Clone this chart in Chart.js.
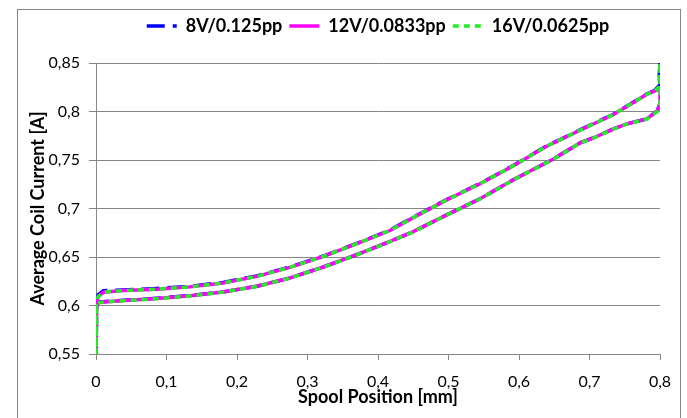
<!DOCTYPE html>
<html>
<head>
<meta charset="utf-8">
<script src="https://cdn.jsdelivr.net/npm/chart.js@4.4.1/dist/chart.umd.min.js"></script>
<style>
  html, body { margin: 0; padding: 0; background: #ffffff; }
  canvas { display: block; }
</style>
</head>
<body>
<canvas id="c" width="687" height="418"></canvas>
<script>
// ---- data ----
const seriesNames = ['8V/0.125pp', '12V/0.0833pp', '16V/0.0625pp'];

// spool position [mm] along the hysteresis loop (up along upper branch, back along lower branch)
const spoolPos = [
  0, 0, 0.001, 0.003, 0.0104, 0.039, 0.086, 0.133, 0.18, 0.228, 0.275, 0.3225, 0.37, 0.417,
  0.45, 0.4974, 0.5447, 0.592, 0.639, 0.6865, 0.734, 0.781, 0.792, 0.798, 0.8,
  0.8, 0.796, 0.781, 0.7527, 0.734, 0.7054, 0.6865, 0.6487, 0.592, 0.5447, 0.4974, 0.45,
  0.417, 0.37, 0.3225, 0.275, 0.228, 0.18, 0.133, 0.086, 0.039, 0.0057, 0.002, 0.001, 0
];

// average coil current [A]
const current8V = [
  0.55, 0.595, 0.604, 0.611, 0.6152, 0.616, 0.6175, 0.6197, 0.6238, 0.6305, 0.6397, 0.651, 0.664, 0.6777,
  0.691, 0.7092, 0.7258, 0.7444, 0.7645, 0.781, 0.7972, 0.818, 0.8215, 0.826, 0.85,
  0.808, 0.8005, 0.7924, 0.7872, 0.782, 0.7727, 0.7676, 0.751, 0.7296, 0.71, 0.6934, 0.6761,
  0.666, 0.6524, 0.6397, 0.6284, 0.6198, 0.614, 0.6102, 0.6074, 0.6053, 0.6036, 0.602, 0.598, 0.55
];
const current12V = [
  0.55, 0.595, 0.603, 0.609, 0.6137, 0.6154, 0.6168, 0.6192, 0.6233, 0.630, 0.6393, 0.6506, 0.6637, 0.6773,
  0.6906, 0.7089, 0.7255, 0.7441, 0.7641, 0.7807, 0.7969, 0.8176, 0.821, 0.8228, 0.822,
  0.808, 0.8003, 0.7924, 0.7872, 0.782, 0.7727, 0.7676, 0.751, 0.7296, 0.71, 0.6934, 0.6761,
  0.666, 0.6524, 0.6397, 0.6284, 0.6198, 0.614, 0.610, 0.6072, 0.6051, 0.6034, 0.602, 0.598, 0.55
];
const current16V = [
  0.55, 0.595, 0.603, 0.609, 0.6137, 0.6154, 0.6168, 0.6192, 0.6233, 0.630, 0.6393, 0.6506, 0.6637, 0.6773,
  0.6906, 0.7089, 0.7255, 0.7441, 0.7641, 0.7807, 0.7969, 0.8176, 0.821, 0.825, 0.85,
  0.806, 0.8, 0.7922, 0.787, 0.7818, 0.7725, 0.7674, 0.7508, 0.7294, 0.7098, 0.6932, 0.6759,
  0.6658, 0.6522, 0.6395, 0.6282, 0.6196, 0.6138, 0.6098, 0.607, 0.6049, 0.6032, 0.6015, 0.598, 0.55
];

const xTicks = [0, 0.1, 0.2, 0.3, 0.4, 0.5, 0.6, 0.7, 0.8];
const yTicks = [0.55, 0.6, 0.65, 0.7, 0.75, 0.8, 0.85];
const xTitle = 'Spool Position [mm]';
const yTitle = 'Average Coil Current [A]';

// ---- build ----
const toPoints = (ys) => spoolPos.map((x, i) => ({ x: x, y: ys[i] }));
const fmt = (v) => String(Number(v.toFixed(3))).replace('.', ',');
const GRID = '#868686';

const layoutFix = {
  id: 'layoutFix',
  beforeLayout(chart) {
    const lg = chart.legend;
    if (lg && !lg._gapWrapped) {
      const fit = lg.fit;
      lg.fit = function () { fit.call(this); this.height += 18; };
      lg._gapWrapped = true;
    }
  },
  afterLayout(chart) {
    if (chart.legend) {
      chart.legend.left = chart.chartArea.left;
      chart.legend.right = chart.chartArea.right;
    }
  },
  beforeDraw(chart) {
    const c = chart.ctx;
    c.save();
    c.fillStyle = '#ffffff';
    c.fillRect(0, 0, chart.width, chart.height);
    c.strokeStyle = GRID;
    c.lineWidth = 1;
    c.strokeRect(17.5, 9.5, 663, 420);
    c.restore();
  }
};

new Chart(document.getElementById('c'), {
  type: 'scatter',
  data: {
    datasets: [
      { label: seriesNames[0], data: toPoints(current8V), showLine: true, borderColor: '#0000ff', backgroundColor: '#0000ff',
        borderWidth: 3.5, borderDash: [18, 8], pointRadius: 0, tension: 0, order: 3 },
      { label: seriesNames[1], data: toPoints(current12V), showLine: true, borderColor: '#ff00ff', backgroundColor: '#ff00ff',
        borderWidth: 3.5, borderDash: [], pointRadius: 0, tension: 0, order: 2 },
      { label: seriesNames[2], data: toPoints(current16V), showLine: true, borderColor: '#22ee22', backgroundColor: '#22ee22',
        borderWidth: 3.5, borderDash: [6, 5], pointRadius: 0, tension: 0, order: 1 }
    ]
  },
  options: {
    responsive: false,
    animation: false,
    devicePixelRatio: 1,
    layout: { padding: { left: 0, right: 27, top: 10, bottom: 0 } },
    plugins: {
      tooltip: { enabled: false },
      legend: {
        position: 'top',
        align: 'center',
        labels: {
          usePointStyle: true,
          pointStyle: 'line',
          pointStyleWidth: 30,
          boxWidth: 30,
          padding: 7,
          color: '#000000',
          font: { family: 'Lato', size: 18, weight: 'bold' },
          generateLabels: (chart) => chart.data.datasets.map((ds, i) => ({
            text: ds.label,
            fillStyle: ds.borderColor,
            strokeStyle: ds.borderColor,
            fontColor: '#000000',
            lineWidth: 3.5,
            lineDash: ds.borderDash,
            lineCap: 'butt',
            pointStyle: 'line',
            hidden: false,
            datasetIndex: i
          }))
        }
      }
    },
    scales: {
      x: {
        type: 'linear',
        min: 0, max: 0.8,
        afterFit(s) { s.height = 64; },
        afterBuildTicks(s) { s.ticks = xTicks.map(v => ({ value: v })); },
        ticks: { callback: (v) => fmt(v), color: '#000000', padding: 12, maxRotation: 0,
                 font: { family: 'Lato', size: 16 } },
        grid: { drawOnChartArea: false, drawTicks: true, tickLength: 6, color: GRID, lineWidth: 1 },
        border: { display: true, color: GRID, width: 1 },
        title: { display: true, text: xTitle, color: '#000000',
                 font: { family: 'Lato', size: 18, weight: 'bold' }, padding: { top: 0, bottom: 10 } }
      },
      y: {
        type: 'linear',
        min: 0.55, max: 0.85,
        afterFit(s) { s.width = 96; },
        afterBuildTicks(s) { s.ticks = yTicks.map(v => ({ value: v })); },
        ticks: { callback: (v) => fmt(v), color: '#000000', padding: 9,
                 font: { family: 'Lato', size: 16 } },
        grid: { drawOnChartArea: true, drawTicks: true, tickLength: 7, color: GRID, lineWidth: 1 },
        border: { display: true, color: GRID, width: 1 },
        title: { display: true, text: yTitle, color: '#000000',
                 font: { family: 'Lato', size: 18, weight: 'bold' }, padding: { top: 27, bottom: 0 } }
      }
    }
  },
  plugins: [layoutFix]
});
</script>
</body>
</html>
